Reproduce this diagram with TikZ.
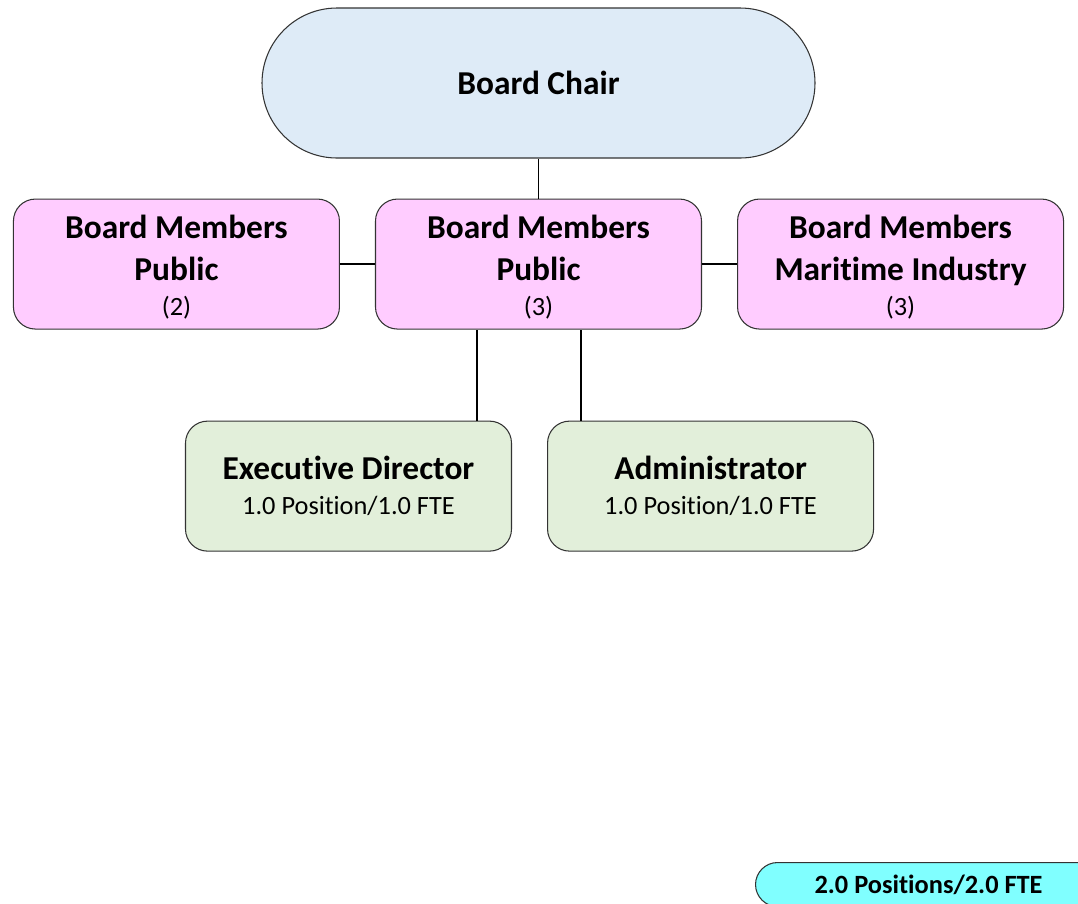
\documentclass[tikz,border=0pt]{standalone}
\usepackage{fontspec}
\setmainfont{Carlito}[Ligatures=NoCommon]
\usetikzlibrary{positioning}
\definecolor{chairblue}{HTML}{DEEBF7}
\definecolor{memberpink}{HTML}{FFCCFF}
\definecolor{staffgreen}{HTML}{E2EFDA}
\definecolor{totalcyan}{HTML}{80FFFF}
\newcommand{\subline}[1]{{\mdseries\fontsize{15}{19}\selectfont #1}}

\begin{document}
\begin{tikzpicture}[-,node distance=0.7cm,line width=0.8pt,
	box/.style={draw=black!80,line width=0.6pt,rounded corners=0.44cm,minimum width=6.52cm,minimum height=2.6cm,align=center,inner sep=0pt,font=\fontsize{19}{24}\selectfont\bfseries},
	member/.style={box,fill=memberpink},
	staff/.style={box,fill=staffgreen},
	chairbox/.style={box,fill=chairblue,rounded corners=1.5cm,minimum width=11.06cm,minimum height=3cm},
	totalbox/.style={box,fill=totalcyan,minimum width=6.92cm,minimum height=0.88cm,font=\fontsize{15}{19}\selectfont\bfseries}]

\useasboundingbox (0,0) rectangle (21.56,-18.06);

\node[chairbox](chair) at (10.77,-1.66){Board Chair};
\node[member](pubM)[below=0.8cm of chair]{\rule{0pt}{17pt}Board Members\\Public\\[-4pt]\subline{(3)}};
\node[member](pubL)[left=of pubM]{\rule{0pt}{17pt}Board Members\\Public\\[-4pt]\subline{(2)}};
\node[member](ind)[right=of pubM]{\rule{0pt}{17pt}Board Members\\Maritime Industry\\[-4pt]\subline{(3)}};
\node[staff](exec)[below=1.82cm of pubM,xshift=-3.8cm]{Executive Director\\[-4pt]\subline{1.0 Position/1.0 FTE}};
\node[staff](admin)[right=of exec]{Administrator\\[-4pt]\subline{1.0 Position/1.0 FTE}};
\node[totalbox,anchor=north west](total) at (15.1,-17.24){2.0 Positions/2.0 FTE};

\path(chair)edge(pubM)
	(pubL)edge(pubM)
	(pubM)edge(ind);
\draw([xshift=-0.7cm]exec.north east)--([xshift=-0.7cm]exec.north east|-pubM.south);
\draw([xshift=0.68cm]admin.north west)--([xshift=0.68cm]admin.north west|-pubM.south);

\end{tikzpicture}
\end{document}
